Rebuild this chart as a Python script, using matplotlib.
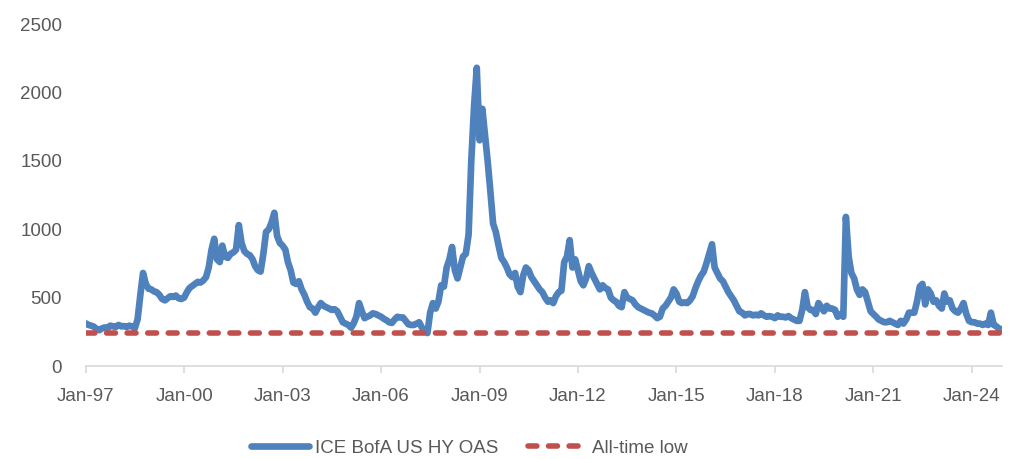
import numpy as np
import pandas as pd
import matplotlib
matplotlib.use("Agg")
import matplotlib.pyplot as plt
import matplotlib.dates as mdates

# Місячні значення спреду (б.п.), по роках
hy_oas_by_year = {
    1997: [312, 300, 295, 288, 270, 262, 275, 282, 278, 295, 290, 285],
    1998: [300, 290, 292, 285, 295, 290, 275, 340, 520, 680, 600, 565],
    1999: [560, 545, 540, 520, 490, 480, 495, 510, 505, 515, 495, 490],
    2000: [500, 540, 570, 585, 600, 615, 610, 625, 650, 720, 850, 930],
    2001: [780, 760, 880, 800, 790, 820, 830, 850, 1030, 900, 840, 820],
    2002: [810, 780, 730, 700, 690, 820, 980, 1000, 1050, 1120, 950, 900],
    2003: [880, 850, 760, 700, 610, 600, 620, 560, 520, 470, 430, 420],
    2004: [390, 430, 460, 440, 430, 420, 410, 415, 400, 360, 320, 310],
    2005: [300, 280, 310, 360, 460, 400, 350, 360, 370, 385, 380, 370],
    2006: [360, 345, 335, 320, 315, 340, 360, 355, 355, 330, 305, 300],
    2007: [300, 310, 320, 280, 250, 241, 390, 460, 420, 470, 590, 580],
    2008: [720, 780, 870, 700, 640, 720, 800, 820, 960, 1500, 1900, 2180],
    2009: [1650, 1880, 1700, 1500, 1280, 1040, 980, 880, 790, 760, 720, 670],
    2010: [650, 680, 580, 540, 660, 720, 700, 650, 620, 590, 560, 540],
    2011: [500, 470, 480, 460, 510, 540, 550, 760, 800, 920, 720, 780],
    2012: [700, 620, 590, 640, 730, 680, 640, 600, 560, 590, 570, 560],
    2013: [500, 480, 470, 440, 430, 540, 500, 490, 480, 450, 430, 420],
    2014: [410, 400, 390, 385, 370, 350, 360, 420, 440, 470, 500, 560],
    2015: [530, 470, 460, 465, 460, 480, 510, 570, 620, 660, 690, 750],
    2016: [820, 890, 720, 680, 640, 620, 580, 540, 510, 480, 440, 400],
    2017: [390, 370, 380, 380, 370, 375, 370, 385, 370, 360, 365, 360],
    2018: [350, 370, 360, 360, 355, 365, 350, 340, 330, 330, 410, 540],
    2019: [430, 410, 410, 380, 460, 430, 400, 440, 420, 420, 410, 360],
    2020: [380, 360, 1090, 800, 680, 640, 560, 520, 560, 540, 470, 400],
    2021: [380, 360, 340, 330, 320, 320, 330, 320, 310, 300, 330, 310],
    2022: [340, 390, 390, 390, 470, 580, 600, 450, 560, 530, 470, 480],
    2023: [440, 420, 530, 470, 480, 420, 400, 390, 420, 460, 380, 330],
    2024: [320, 320, 310, 310, 300, 310, 300, 390, 300, 290, 270, 270],
}
all_time_low = 241

hy_oas = [v for year in sorted(hy_oas_by_year) for v in hy_oas_by_year[year]]
dates = pd.date_range("1997-01-01", periods=len(hy_oas), freq="MS")

series_label = "ICE BofA US HY OAS"
low_label = "All-time low"
y_ticks = [0, 500, 1000, 1500, 2000, 2500]
x_tick_years = list(range(1997, 2025, 3))

plt.rcParams["font.family"] = ["Liberation Sans", "DejaVu Sans"]
text_col = "#595959"
axis_col = "#D9D9D9"

fig = plt.figure(figsize=(10.12, 4.59), dpi=100)
ax = fig.add_axes([0.0847, 0.2026, 0.9053, 0.7451])

ax.plot(dates, hy_oas, color="#4F81BD", linewidth=4.8, solid_joinstyle="round",
        solid_capstyle="round", label=series_label)
ax.plot(dates, [all_time_low] * len(dates), color="#C0504D", linewidth=4,
        linestyle=(0, (1.6, 2.1)), dash_capstyle="round", label=low_label)

# Осі
ax.set_ylim(0, 2500)
ax.set_yticks(y_ticks)
ax.set_xlim(dates[0], dates[-1])
ax.set_xticks([pd.Timestamp(f"{y}-01-01") for y in x_tick_years])
ax.xaxis.set_major_formatter(mdates.DateFormatter("%b-%y"))

for side in ["top", "right", "left"]:
    ax.spines[side].set_visible(False)
ax.spines["bottom"].set_color(axis_col)
ax.spines["bottom"].set_linewidth(1.2)

ax.tick_params(axis="y", length=0, pad=17, labelsize=13.5, labelcolor=text_col)
ax.tick_params(axis="x", length=5, width=1.2, color=axis_col, pad=11,
               labelsize=13.5, labelcolor=text_col)

fig.legend(loc="center", bbox_to_anchor=(0.464, 0.024), ncol=2, frameon=False,
           fontsize=13.5, labelcolor=text_col, handlelength=3.1,
           handletextpad=0.3, columnspacing=1.6)

fig.savefig("out.png", dpi=100)
